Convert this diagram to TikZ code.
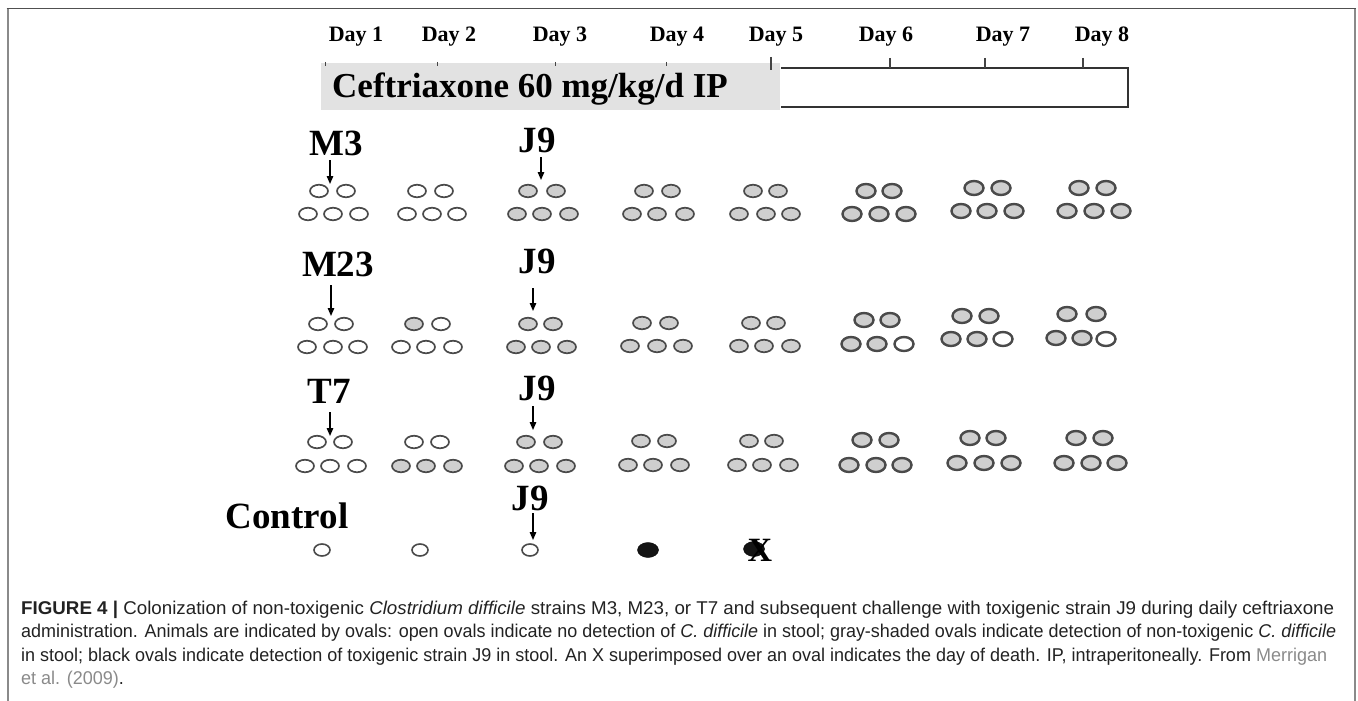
\documentclass[tikz,border=0pt]{standalone}
\usepackage{graphicx}
\usepackage{fontspec}
\setmainfont{Liberation Serif}
\newfontfamily\capfont{Liberation Sans}
\usetikzlibrary{shapes.geometric,arrows.meta}
\definecolor{ovalgray}{HTML}{CFCFCF}
\definecolor{ovalline}{HTML}{4A4A4A}
\definecolor{boxgray}{HTML}{E2E2E2}
\definecolor{boxline}{HTML}{333333}
\definecolor{tickcol}{HTML}{444444}
\definecolor{linkgray}{HTML}{8A8A8A}
\definecolor{framegray}{HTML}{8A8A8A}
\definecolor{frametop}{HTML}{505050}
\definecolor{captext}{HTML}{222222}
\newcommand\fitline[2]{\sbox0{#2}\pgfmathsetmacro\fitsx{#1/\wd0}\global\let\lastsx\fitsx\scalebox{\fitsx}[1]{\usebox0}}
\begin{document}
\begin{tikzpicture}[x=1pt,y=-1pt,
  op/.style={ellipse,draw=ovalline,fill=white,line width=1.7pt,minimum width=18pt,minimum height=12.5pt,inner sep=0pt},
  gr/.style={op,fill=ovalgray},
  opb/.style={op,line width=2.4pt,minimum width=19pt,minimum height=14pt},
  grb/.style={opb,fill=ovalgray},
  ctl/.style={op,line width=1.6pt,minimum width=16pt,minimum height=12pt},
  blk/.style={ellipse,fill=black!92,draw=black,minimum width=21pt,minimum height=15pt,inner sep=0pt},
  lab/.style={anchor=base,font=\fontsize{37}{37}\selectfont\bfseries,inner sep=0pt},
  daylab/.style={anchor=base,font=\fontsize{22}{22}\selectfont\bfseries,inner sep=0pt},
  arr/.style={-{Triangle[length=8pt,width=6.5pt]},line width=1.4pt},
  tickmark/.style={draw=tickcol,line width=1.3pt},
  capline/.style={anchor=base west,inner sep=0pt,font=\capfont\fontsize{18.5}{20}\selectfont,text=captext}
]
\useasboundingbox (0,0) rectangle (1358,701);
% frame
\draw[framegray,line width=2pt] (7.5,9) -- (7.5,701);
\draw[framegray,line width=1.5pt] (1355,9) -- (1355,701);
\draw[frametop,line width=1.6pt] (6.5,8.5) -- (1356,8.5);

% day labels
\foreach \n/\x/\t in {d1/356/1,d2/449/2,d3/560/3,d4/677/4,d5/776/5,d6/886/6,d7/1003/7,d8/1102/8}
  \node[daylab] (\n) at (\x,42) {Day \t};

% treatment bar
\fill[boxgray] (321,63) rectangle (780,110);
\draw[boxline,line width=1.5pt] (781,68) -- (1128,68) -- (1128,107) -- (781,107);
\node[anchor=base west,inner sep=0pt,font=\fontsize{35}{35}\selectfont\bfseries] (ceft) at (332,98) {Ceftriaxone 60 mg/kg/d IP};
\foreach \x in {325,437,555,666}
  \draw[tickmark,line width=1pt] (\x,62) -- (\x,66);
\draw[tickmark] (771,57) -- (771,70);
\foreach \x in {890,985,1083}
  \draw[tickmark] (\x,58) -- (\x,68);

% row labels
\node[lab] (lM3) at (336,155) {M3};
\node[lab] (lJ9a) at (537,152) {J9};
\node[lab] (lM23) at (338,276) {M23};
\node[lab] (lJ9b) at (537,273) {J9};
\node[lab] (lT7) at (329,403) {T7};
\node[lab] (lJ9c) at (537,400) {J9};
\node[lab] (lCtl) at (287,528) {Control};
\node[lab] (lJ9d) at (530,510) {J9};

% arrows
\coordinate (a1s) at (330,160); \coordinate (a1e) at (330,184);
\coordinate (a2s) at (541,157); \coordinate (a2e) at (541,180);
\coordinate (a3s) at (331,285); \coordinate (a3e) at (331,316);
\coordinate (a4s) at (533,288); \coordinate (a4e) at (533,311);
\coordinate (a5s) at (330,412); \coordinate (a5e) at (330,436);
\coordinate (a6s) at (533,406); \coordinate (a6e) at (533,430);
\coordinate (a7s) at (533,513); \coordinate (a7e) at (533,540);
\foreach \i in {1,...,7} \draw[arr] (a\i s) -- (a\i e);

% row 1
\foreach \n/\x/\y/\s in {
 r1g1a/319/191/op, r1g1b/346/191/op, r1g1c/308/214/op, r1g1d/333/214/op, r1g1e/359/214/op,
 r1g2a/417/191/op, r1g2b/444/191/op, r1g2c/407/214/op, r1g2d/432/214/op, r1g2e/457/214/op,
 r1g3a/528/191/gr, r1g3b/556/191/gr, r1g3c/517/214/gr, r1g3d/542/214/gr, r1g3e/569/214/gr,
 r1g4a/644/191/gr, r1g4b/671/191/gr, r1g4c/632/214/gr, r1g4d/657/214/gr, r1g4e/685/214/gr,
 r1g5a/753/191/gr, r1g5b/778/191/gr, r1g5c/739/214/gr, r1g5d/766/214/gr, r1g5e/791/214/gr,
 r1g6a/866/191/grb, r1g6b/892/191/grb, r1g6c/852/214/grb, r1g6d/879/214/grb, r1g6e/906/214/grb,
 r1g7a/974/188/grb, r1g7b/1001/188/grb, r1g7c/961/211/grb, r1g7d/987/211/grb, r1g7e/1014/211/grb,
 r1g8a/1079/188/grb, r1g8b/1106/188/grb, r1g8c/1067/211/grb, r1g8d/1094/211/grb, r1g8e/1121/211/grb}
 {\node[\s] (\n) at (\x,\y) {};}

% row 2
\foreach \n/\x/\y/\s in {
 r2g1a/318/324/op, r2g1b/344/324/op, r2g1c/307/347/op, r2g1d/333/347/op, r2g1e/358/347/op,
 r2g2a/414/324/gr, r2g2b/441/324/op, r2g2c/401/347/op, r2g2d/426/347/op, r2g2e/453/347/op,
 r2g3a/528/324/gr, r2g3b/553/324/gr, r2g3c/516/347/gr, r2g3d/541/347/gr, r2g3e/567/347/gr,
 r2g4a/642/323/gr, r2g4b/669/323/gr, r2g4c/630/346/gr, r2g4d/657/346/gr, r2g4e/683/346/gr,
 r2g5a/751/323/gr, r2g5b/776/323/gr, r2g5c/739/346/gr, r2g5d/764/346/gr, r2g5e/791/346/gr,
 r2g6a/864/320/grb, r2g6b/890/320/grb, r2g6c/851/344/grb, r2g6d/877/344/grb, r2g6e/904/344/opb,
 r2g7a/962/316/grb, r2g7b/989/316/grb, r2g7c/951/339/grb, r2g7d/977/339/grb, r2g7e/1003/339/opb,
 r2g8a/1067/314/grb, r2g8b/1096/314/grb, r2g8c/1056/338/grb, r2g8d/1082/338/grb, r2g8e/1106/339/opb}
 {\node[\s] (\n) at (\x,\y) {};}

% row 3
\foreach \n/\x/\y/\s in {
 r3g1a/317/442/op, r3g1b/343/442/op, r3g1c/305/466/op, r3g1d/330/466/op, r3g1e/357/466/op,
 r3g2a/414/442/op, r3g2b/440/442/op, r3g2c/401/466/gr, r3g2d/426/466/gr, r3g2e/453/466/gr,
 r3g3a/526/442/gr, r3g3b/553/442/gr, r3g3c/514/466/gr, r3g3d/539/466/gr, r3g3e/566/466/gr,
 r3g4a/641/441/gr, r3g4b/667/441/gr, r3g4c/628/465/gr, r3g4d/653/465/gr, r3g4e/680/465/gr,
 r3g5a/749/441/gr, r3g5b/774/441/gr, r3g5c/737/465/gr, r3g5d/762/465/gr, r3g5e/789/465/gr,
 r3g6a/862/440/grb, r3g6b/889/440/grb, r3g6c/849/465/grb, r3g6d/876/465/grb, r3g6e/902/465/grb,
 r3g7a/970/438/grb, r3g7b/996/438/grb, r3g7c/957/463/grb, r3g7d/984/463/grb, r3g7e/1011/463/grb,
 r3g8a/1076/438/grb, r3g8b/1103/438/grb, r3g8c/1064/463/grb, r3g8d/1091/463/grb, r3g8e/1117/463/grb}
 {\node[\s] (\n) at (\x,\y) {};}

% control row
\node[ctl] (c1) at (322,550) {};
\node[ctl] (c2) at (420,550) {};
\node[ctl] (c3) at (530,550) {};
\node[blk] (c4) at (648,550) {};
\node[blk] (c5) at (754,549) {};
\node[inner sep=0pt,font=\fontsize{34}{34}\selectfont\bfseries] (cx) at (760,550) {X};

% caption
\node[capline] (cap1) at (21,614) {\fitline{1313}{{\bfseries FIGURE 4 |} Colonization of non-toxigenic \textit{Clostridium difficile} strains M3, M23, or T7 and subsequent challenge with toxigenic strain J9 during daily ceftriaxone}};
\node[capline] (cap2) at (21,637.5) {\fitline{1315}{administration. Animals are indicated by ovals: open ovals indicate no detection of \textit{C. difficile} in stool; gray-shaded ovals indicate detection of non-toxigenic \textit{C. difficile}}};
\node[capline] (cap3) at (21,661) {\fitline{1306}{in stool; black ovals indicate detection of toxigenic strain J9 in stool. An X superimposed over an oval indicates the day of death. IP, intraperitoneally. From \textcolor{linkgray}{Merrigan}}};
\node[capline] (cap4) at (21,684.5) {\scalebox{\lastsx}[1]{\textcolor{linkgray}{et al. (2009)}.}};
\end{tikzpicture}
\end{document}
